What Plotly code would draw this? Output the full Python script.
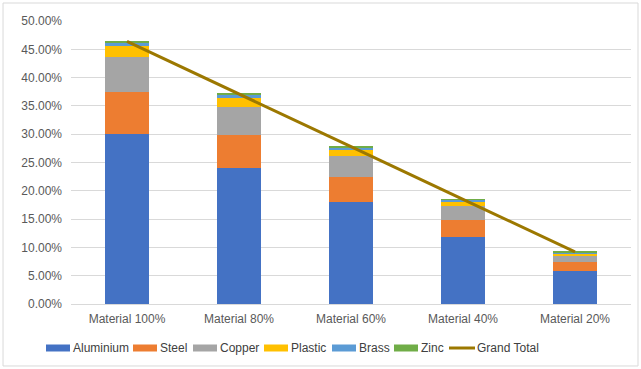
import plotly.graph_objects as go

categories = ["Material 100%", "Material 80%", "Material 60%", "Material 40%", "Material 20%"]

aluminium = [0.301, 0.240, 0.180, 0.119, 0.059]
steel = [0.073, 0.058, 0.044, 0.029, 0.015]
copper = [0.062, 0.050, 0.038, 0.025, 0.012]
plastic = [0.020, 0.016, 0.010, 0.008, 0.003]
brass = [0.006, 0.006, 0.005, 0.003, 0.0025]
zinc = [0.002, 0.0015, 0.001, 0.001, 0.0005]

series = [
    ("Aluminium", aluminium, "#4472C4"),
    ("Steel", steel, "#ED7D31"),
    ("Copper", copper, "#A5A5A5"),
    ("Plastic", plastic, "#FFC000"),
    ("Brass", brass, "#5B9BD5"),
    ("Zinc", zinc, "#70AD47"),
]
total_name, total_color = "Grand Total", "#9C7800"

grand_total = [sum(vals) for vals in zip(aluminium, steel, copper, plastic, brass, zinc)]

y_ticks = [i * 0.05 for i in range(11)]

W, H = 641, 369
L, R, T, B = 71, 10, 21, 65
PW, PH = W - L - R, H - T - B

font = dict(family="Liberation Sans, Arial, sans-serif", size=12, color="#595959")
legend_font = dict(family="Liberation Sans, Arial, sans-serif", size=12, color="#404040")


def px_x(x):
    return (x - L) / PW


def px_y(y):
    return (H - B - y) / PH


fig = go.Figure()

for name, vals, color in series:
    fig.add_trace(go.Bar(
        x=categories, y=vals, name=name,
        marker=dict(color=color, line=dict(width=0)),
    ))

fig.add_trace(go.Scatter(
    x=categories, y=grand_total, mode="lines", name=total_name,
    line=dict(color=total_color, width=3),
))

# Legend row along the bottom: swatch start x for each entry
legend_y = 348
swatch_x = [46, 133, 193, 264, 332, 394]
shapes = [dict(
    type="rect", xref="paper", yref="paper",
    x0=-0.1214, x1=1.0125, y0=-0.219, y1=1.0636,
    line=dict(color="#D9D9D9", width=1), fillcolor="rgba(0,0,0,0)",
    layer="below",
)]
annotations = []
for (name, _, color), sx in zip(series, swatch_x):
    shapes.append(dict(
        type="rect", xref="paper", yref="paper",
        x0=px_x(sx), x1=px_x(sx + 24), y0=px_y(legend_y + 3.5), y1=px_y(legend_y - 3.5),
        line=dict(width=0), fillcolor=color,
    ))
    annotations.append(dict(
        text=name, xref="paper", yref="paper", x=px_x(sx + 26), y=px_y(legend_y),
        xanchor="left", yanchor="middle", showarrow=False, font=legend_font,
        borderpad=0,
    ))
shapes.append(dict(
    type="line", xref="paper", yref="paper",
    x0=px_x(449), x1=px_x(475), y0=px_y(legend_y), y1=px_y(legend_y),
    line=dict(color=total_color, width=3),
))
annotations.append(dict(
    text=total_name, xref="paper", yref="paper", x=px_x(476), y=px_y(legend_y),
    xanchor="left", yanchor="middle", showarrow=False, font=legend_font,
    borderpad=0,
))

fig.update_layout(
    barmode="stack",
    bargap=0.6,
    width=W, height=H,
    margin=dict(l=L, r=R, t=T, b=B, autoexpand=False),
    paper_bgcolor="white",
    plot_bgcolor="white",
    font=font,
    showlegend=False,
    xaxis=dict(
        showgrid=False, showline=True, linecolor="#D9D9D9", linewidth=1,
        ticks="", tickfont=font, ticklabelstandoff=4,
    ),
    yaxis=dict(
        range=[0, 0.5], tickvals=y_ticks, tickformat=".2%",
        showgrid=True, gridcolor="#D9D9D9", gridwidth=1,
        zeroline=False, showline=False, ticks="", tickfont=font,
        ticklabelstandoff=8,
    ),
    shapes=shapes,
    annotations=annotations,
)

fig.write_html("out.html")
